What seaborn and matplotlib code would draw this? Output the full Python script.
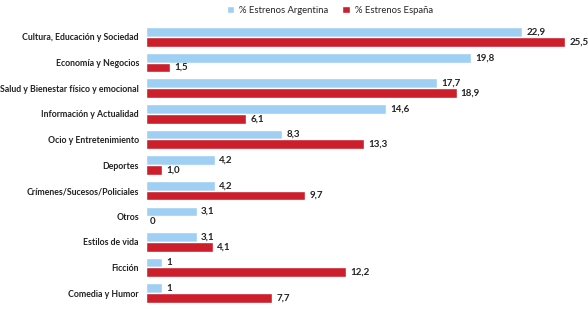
import matplotlib
matplotlib.use("Agg")
import matplotlib.pyplot as plt
import seaborn as sns
import pandas as pd

categories = ["Cultura, Educación y Sociedad", "Economía y Negocios",
              "Salud y Bienestar físico y emocional", "Información y Actualidad",
              "Ocio y Entretenimiento", "Deportes", "Crímenes/Sucesos/Policiales",
              "Otros", "Estilos de vida", "Ficción", "Comedia y Humor"]
argentina = [22.9, 19.8, 17.7, 14.6, 8.3, 4.2, 4.2, 3.1, 3.1, 1, 1]
espana = [25.5, 1.5, 18.9, 6.1, 13.3, 1.0, 9.7, 0, 4.1, 12.2, 7.7]
argentina_labels = ["22,9", "19,8", "17,7", "14,6", "8,3", "4,2", "4,2", "3,1", "3,1", "1", "1"]
espana_labels = ["25,5", "1,5", "18,9", "6,1", "13,3", "1,0", "9,7", "0", "4,1", "12,2", "7,7"]
series = ["% Estrenos Argentina", "% Estrenos España"]

df = pd.DataFrame({
    "cat": categories * 2,
    "val": argentina + espana,
    "serie": [series[0]] * len(categories) + [series[1]] * len(categories),
})

sns.set_style("white")
plt.rcParams['font.family'] = ['Lato', 'DejaVu Sans']

fig = plt.figure(figsize=(5.88, 3.09), dpi=100)
ax = fig.add_axes([0.248, 0.010, 0.727, 0.912])
palette = {series[0]: "#9fd0f4", series[1]: "#cc1f2b"}
sns.barplot(data=df, y="cat", x="val", hue="serie", orient="h", palette=palette,
            width=0.76, ax=ax, saturation=1, legend=True)

for cont, labels in zip(ax.containers, [argentina_labels, espana_labels]):
    ax.bar_label(cont, labels=labels, padding=3, fontsize=7, color="#222222", fontweight="bold")

ax.set_xlim(0, 26)
ax.set_ylim(10.5, -0.5)
ax.set_xlabel("")
ax.set_ylabel("")
ax.set_xticks([])
for s in ax.spines.values():
    s.set_visible(False)
ax.tick_params(axis="y", length=0, pad=5, labelsize=6.3)
for t in ax.get_yticklabels():
    t.set_color("#222222")
    t.set_fontweight("bold")

leg = ax.legend(loc="upper center", bbox_to_anchor=(0.43, 1.095), ncol=2, frameon=False,
                fontsize=6.8, handlelength=0.8, handleheight=0.8, columnspacing=1.5,
                handletextpad=0.5)
fig.savefig("out.png", dpi=100)
